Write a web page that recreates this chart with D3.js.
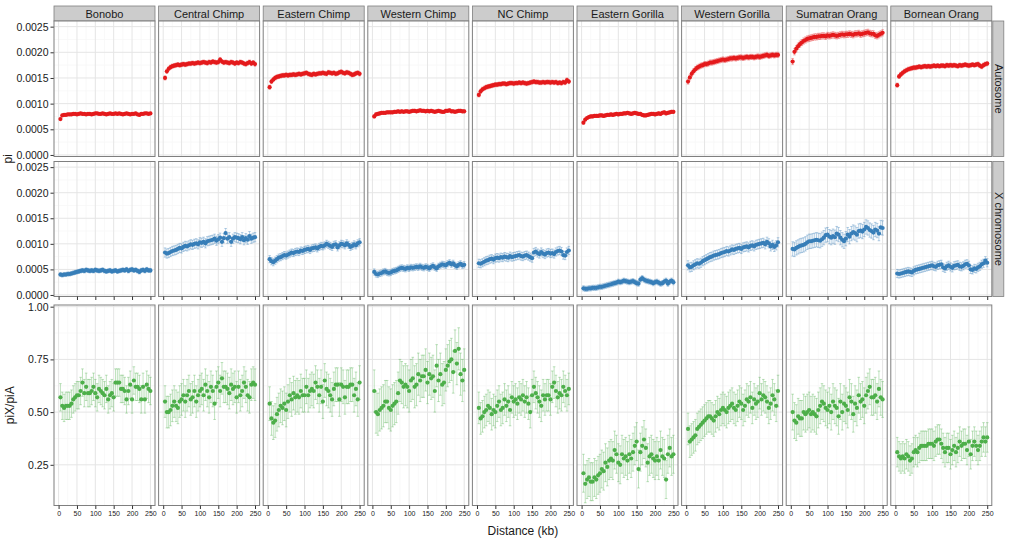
<!DOCTYPE html>
<html>
<head>
<meta charset="utf-8">
<script src="https://cdn.jsdelivr.net/npm/d3@7"></script>
<style>
  body { margin: 0; background: #fff; }
  text { font-family: "Liberation Sans", Arial, Helvetica, sans-serif; }
</style>
</head>
<body>
<svg width="1009" height="540"></svg>
<script>
// species (columns) and distance bins (kb)
var species = ["Bonobo", "Central Chimp", "Eastern Chimp", "Western Chimp", "NC Chimp",
               "Eastern Gorilla", "Western Gorilla", "Sumatran Orang", "Bornean Orang"];
var distance = [5,10,15,20,25,30,35,40,45,50,55,60,65,70,75,80,85,90,95,100,
                105,110,115,120,125,130,135,140,145,150,155,160,165,170,175,180,185,190,195,200,
                205,210,215,220,225,230,235,240,245,250];
var xTicks = [0, 50, 100, 150, 200, 250];
var piTicks = [0, 0.0005, 0.001, 0.0015, 0.002, 0.0025];
var ratioTicks = [0.25, 0.5, 0.75, 1.0];

// autosome pi
var piA_bonobo = [.00070,.00077,.00078,.00078,.00079,.00079,.00079,.00080,.00080,.00079,
  .00080,.00081,.00080,.00080,.00079,.00080,.00080,.00079,.00080,.00081,
  .00081,.00080,.00080,.00081,.00080,.00079,.00080,.00081,.00080,.00080,
  .00081,.00080,.00081,.00080,.00079,.00080,.00081,.00080,.00079,.00080,
  .00080,.00081,.00079,.00078,.00080,.00080,.00081,.00081,.00080,.00081];
var piA_central = [.00150,.00163,.00168,.00171,.00173,.00174,.00175,.00176,.00175,.00176,
  .00177,.00176,.00177,.00178,.00178,.00179,.00178,.00179,.00180,.00179,
  .00180,.00181,.00180,.00179,.00181,.00180,.00182,.00181,.00180,.00181,
  .00186,.00182,.00180,.00181,.00180,.00179,.00181,.00180,.00178,.00180,
  .00179,.00181,.00180,.00178,.00177,.00179,.00181,.00178,.00180,.00177];
var piA_eastern = [.00132,.00143,.00147,.00150,.00152,.00153,.00154,.00155,.00155,.00156,
  .00155,.00156,.00156,.00157,.00156,.00157,.00158,.00157,.00158,.00159,
  .00160,.00158,.00157,.00156,.00158,.00157,.00158,.00159,.00159,.00160,
  .00159,.00158,.00161,.00160,.00159,.00160,.00158,.00159,.00161,.00162,
  .00160,.00159,.00161,.00160,.00158,.00156,.00157,.00159,.00160,.00158];
var piA_western = [.00075,.00079,.00080,.00081,.00082,.00082,.00082,.00083,.00083,.00083,
  .00083,.00084,.00084,.00085,.00084,.00085,.00084,.00085,.00085,.00084,
  .00085,.00086,.00086,.00085,.00086,.00087,.00086,.00086,.00085,.00086,
  .00085,.00086,.00085,.00084,.00085,.00086,.00085,.00084,.00084,.00086,
  .00086,.00087,.00085,.00085,.00084,.00085,.00086,.00086,.00085,.00085];
var piA_nc = [.00117,.00124,.00128,.00130,.00132,.00133,.00134,.00135,.00136,.00137,
  .00137,.00138,.00138,.00139,.00139,.00138,.00139,.00140,.00140,.00139,
  .00140,.00140,.00141,.00140,.00141,.00140,.00139,.00140,.00141,.00142,
  .00143,.00142,.00142,.00141,.00141,.00142,.00141,.00142,.00142,.00141,
  .00142,.00141,.00142,.00140,.00141,.00140,.00142,.00141,.00146,.00143];
var piA_egor = [.00063,.00069,.00072,.00074,.00075,.00075,.00076,.00076,.00076,.00077,
  .00077,.00076,.00077,.00078,.00078,.00079,.00078,.00079,.00080,.00079,
  .00080,.00080,.00081,.00081,.00082,.00081,.00080,.00081,.00082,.00081,
  .00080,.00080,.00078,.00077,.00077,.00078,.00079,.00080,.00080,.00079,
  .00080,.00081,.00080,.00082,.00083,.00081,.00082,.00083,.00084,.00084];
var piA_wgor = [.00143,.00151,.00158,.00163,.00167,.00170,.00172,.00174,.00175,.00177,
  .00177,.00178,.00180,.00180,.00181,.00182,.00183,.00184,.00185,.00186,
  .00185,.00186,.00187,.00188,.00188,.00189,.00188,.00189,.00190,.00190,
  .00189,.00190,.00191,.00190,.00191,.00191,.00190,.00191,.00192,.00191,
  .00192,.00193,.00194,.00195,.00193,.00194,.00195,.00194,.00195,.00195];
var piA_sorang = [.00182,.00201,.00207,.00212,.00216,.00219,.00222,.00224,.00226,.00227,
  .00228,.00229,.00230,.00230,.00231,.00231,.00232,.00232,.00231,.00233,
  .00232,.00233,.00234,.00233,.00232,.00233,.00234,.00235,.00234,.00235,
  .00235,.00236,.00235,.00234,.00236,.00236,.00237,.00235,.00236,.00237,
  .00238,.00239,.00237,.00236,.00236,.00233,.00232,.00234,.00236,.00238];
var piA_borang = [.00136,.00153,.00157,.00160,.00163,.00165,.00167,.00168,.00169,.00170,
  .00170,.00171,.00172,.00171,.00172,.00173,.00172,.00173,.00172,.00173,
  .00174,.00173,.00174,.00173,.00174,.00174,.00173,.00175,.00174,.00175,
  .00174,.00175,.00174,.00173,.00175,.00174,.00175,.00176,.00175,.00174,
  .00175,.00176,.00175,.00176,.00177,.00174,.00172,.00175,.00177,.00178];

// X chromosome pi
var piX_bonobo = [.00040,.00039,.00040,.00040,.00041,.00041,.00042,.00043,.00044,.00045,
  .00046,.00047,.00048,.00047,.00049,.00048,.00047,.00048,.00047,.00049,
  .00048,.00047,.00048,.00049,.00047,.00046,.00047,.00048,.00046,.00047,
  .00048,.00046,.00047,.00048,.00049,.00048,.00050,.00047,.00049,.00050,
  .00048,.00049,.00047,.00045,.00048,.00049,.00047,.00050,.00048,.00048];
var piX_central = [.00083,.00081,.00082,.00084,.00086,.00087,.00088,.00090,.00092,.00091,
  .00094,.00096,.00095,.00097,.00099,.00098,.00100,.00101,.00099,.00103,
  .00102,.00104,.00101,.00105,.00106,.00107,.00108,.00110,.00106,.00109,
  .00112,.00104,.00111,.00121,.00110,.00113,.00104,.00110,.00113,.00112,
  .00111,.00109,.00113,.00107,.00111,.00108,.00115,.00110,.00112,.00113];
var piX_eastern = [.00070,.00066,.00064,.00067,.00070,.00073,.00074,.00076,.00078,.00077,
  .00079,.00081,.00083,.00082,.00084,.00085,.00084,.00087,.00086,.00088,
  .00089,.00090,.00088,.00091,.00092,.00093,.00091,.00094,.00096,.00095,
  .00097,.00100,.00098,.00096,.00094,.00098,.00099,.00093,.00097,.00100,
  .00099,.00097,.00101,.00098,.00094,.00096,.00099,.00097,.00101,.00103];
var piX_western = [.00045,.00041,.00040,.00042,.00043,.00045,.00046,.00044,.00043,.00044,
  .00046,.00047,.00048,.00050,.00052,.00053,.00052,.00051,.00053,.00052,
  .00054,.00053,.00054,.00055,.00054,.00056,.00054,.00053,.00055,.00054,
  .00052,.00055,.00057,.00054,.00052,.00056,.00058,.00060,.00059,.00058,
  .00061,.00063,.00060,.00062,.00058,.00056,.00059,.00061,.00058,.00059];
var piX_nc = [.00062,.00061,.00063,.00065,.00067,.00068,.00070,.00071,.00069,.00072,
  .00073,.00072,.00074,.00073,.00075,.00074,.00073,.00076,.00074,.00075,
  .00076,.00077,.00078,.00076,.00075,.00077,.00078,.00076,.00074,.00072,
  .00083,.00085,.00082,.00080,.00084,.00081,.00079,.00082,.00083,.00081,
  .00082,.00080,.00084,.00086,.00087,.00085,.00078,.00077,.00084,.00087];
var piX_egor = [.00013,.00012,.00012,.00013,.00013,.00014,.00014,.00014,.00015,.00016,
  .00016,.00017,.00018,.00019,.00020,.00021,.00022,.00023,.00024,.00026,
  .00025,.00026,.00028,.00027,.00026,.00025,.00026,.00027,.00025,.00023,
  .00022,.00030,.00033,.00030,.00028,.00027,.00026,.00025,.00023,.00025,
  .00026,.00024,.00022,.00023,.00026,.00028,.00022,.00026,.00028,.00025];
var piX_wgor = [.00058,.00054,.00055,.00058,.00060,.00062,.00061,.00063,.00066,.00068,
  .00070,.00072,.00074,.00075,.00077,.00078,.00079,.00080,.00082,.00083,
  .00084,.00086,.00085,.00087,.00089,.00088,.00090,.00091,.00092,.00090,
  .00093,.00094,.00095,.00093,.00096,.00097,.00095,.00098,.00099,.00100,
  .00101,.00102,.00099,.00104,.00101,.00095,.00098,.00094,.00097,.00103];
var piX_sorang = [.00090,.00089,.00092,.00094,.00096,.00097,.00098,.00100,.00103,.00105,
  .00105,.00106,.00107,.00108,.00107,.00106,.00109,.00112,.00117,.00118,
  .00114,.00112,.00115,.00113,.00120,.00118,.00112,.00108,.00105,.00110,
  .00118,.00114,.00120,.00123,.00121,.00118,.00125,.00126,.00124,.00128,
  .00133,.00131,.00127,.00125,.00122,.00128,.00126,.00120,.00132,.00131];
var piX_borang = [.00042,.00041,.00042,.00043,.00044,.00045,.00046,.00045,.00044,.00047,
  .00049,.00050,.00051,.00052,.00053,.00054,.00055,.00056,.00057,.00058,
  .00056,.00055,.00058,.00059,.00060,.00054,.00052,.00056,.00058,.00055,
  .00053,.00057,.00058,.00059,.00056,.00055,.00057,.00060,.00061,.00058,
  .00050,.00049,.00052,.00051,.00054,.00056,.00060,.00062,.00067,.00063];

// piX / piA
var ratio_bonobo = [.57,.53,.52,.53,.53,.53,.54,.56,.57,.58,
  .58,.60,.64,.59,.62,.59,.59,.60,.62,.59,
  .57,.61,.60,.59,.58,.61,.56,.58,.59,.57,
  .64,.64,.64,.61,.61,.60,.56,.60,.63,.56,
  .65,.62,.62,.61,.56,.62,.56,.63,.61,.60];
var ratio_central = [.55,.50,.50,.51,.53,.55,.53,.52,.55,.56,
  .58,.55,.58,.60,.56,.57,.60,.55,.58,.60,
  .61,.58,.63,.60,.57,.62,.60,.54,.62,.64,
  .60,.66,.62,.62,.61,.59,.63,.61,.62,.57,
  .62,.58,.60,.64,.62,.58,.57,.63,.64,.63];
var ratio_eastern = [.54,.47,.45,.46,.49,.51,.53,.52,.54,.51,
  .55,.58,.56,.59,.57,.58,.57,.60,.58,.58,
  .62,.58,.60,.61,.60,.64,.62,.58,.62,.55,
  .65,.61,.60,.58,.56,.61,.63,.63,.56,.63,
  .62,.57,.62,.62,.63,.63,.58,.61,.56,.64];
var ratio_western = [.60,.50,.49,.51,.52,.53,.55,.55,.52,.51,
  .53,.54,.55,.59,.65,.64,.62,.63,.62,.60,
  .65,.66,.62,.63,.68,.65,.67,.67,.70,.64,
  .68,.66,.67,.60,.72,.65,.68,.63,.64,.70,
  .72,.74,.75,.69,.79,.73,.80,.68,.65,.70];
var ratio_nc = [.52,.47,.48,.50,.51,.53,.52,.49,.51,.50,
  .53,.55,.51,.52,.56,.53,.55,.51,.57,.55,
  .56,.54,.57,.56,.58,.55,.57,.54,.50,.58,
  .62,.59,.57,.55,.53,.58,.56,.58,.58,.56,
  .62,.64,.60,.57,.59,.58,.62,.60,.58,.61];
var ratio_egor = [.21,.16,.18,.19,.17,.17,.19,.18,.20,.21,
  .23,.22,.26,.24,.27,.28,.27,.32,.30,.26,
  .25,.30,.28,.29,.27,.30,.28,.31,.34,.36,
  .23,.31,.34,.37,.33,.26,.29,.30,.28,.27,
  .29,.27,.32,.29,.28,.18,.30,.33,.29,.30];
var ratio_wgor = [.42,.36,.37,.38,.39,.42,.43,.44,.45,.46,
  .47,.48,.48,.47,.46,.48,.50,.49,.51,.52,
  .51,.50,.52,.53,.54,.52,.51,.53,.55,.54,
  .51,.53,.56,.55,.57,.52,.56,.54,.55,.59,
  .56,.58,.57,.55,.52,.54,.58,.56,.53,.60];
var ratio_sorang = [.50,.46,.45,.48,.47,.47,.50,.49,.50,.51,
  .49,.50,.49,.48,.51,.53,.55,.54,.52,.51,
  .53,.50,.55,.53,.52,.48,.55,.50,.54,.53,
  .51,.57,.55,.49,.54,.52,.58,.55,.56,.53,
  .58,.60,.62,.57,.57,.58,.55,.61,.57,.56];
var ratio_borang = [.31,.29,.28,.29,.28,.30,.29,.27,.28,.31,
  .32,.31,.33,.34,.34,.34,.34,.35,.35,.35,
  .34,.36,.37,.37,.35,.33,.31,.33,.33,.30,
  .32,.34,.31,.33,.36,.34,.35,.35,.32,.36,
  .30,.34,.36,.34,.32,.34,.36,.38,.36,.38];

// error bar half widths, one per species
var errA = [.00002, .00004, .00004, .00003, .00004, .00003, .00005, .00006, .00004];
var errX = [.00004, .00009, .00007, .00006, .00008, .00005, .00009, .00014, .00008];
var errR = [.065, .075, .08, .10, .075, .09, .075, .085, .07];

var piA = [piA_bonobo, piA_central, piA_eastern, piA_western, piA_nc, piA_egor, piA_wgor, piA_sorang, piA_borang];
var piX = [piX_bonobo, piX_central, piX_eastern, piX_western, piX_nc, piX_egor, piX_wgor, piX_sorang, piX_borang];
var ratio = [ratio_bonobo, ratio_central, ratio_eastern, ratio_western, ratio_nc, ratio_egor, ratio_wgor, ratio_sorang, ratio_borang];

var svg = d3.select("svg");

// layout
var left = 54, panelW = 101, gapX = 3.6;
var rows = [
  {top: 21, bottom: 156.5, data: piA, err: errA, color: "#e41a1c", strip: "Autosome"},
  {top: 161.5, bottom: 296.5, data: piX, err: errX, color: "#377eb8", strip: "X chromosome"},
  {top: 305, bottom: 505.5, data: ratio, err: errR, color: "#4daf4a"}
];

var x = d3.scaleLinear().domain([-12.5, 262.5]).range([0, panelW]);
var yPi1 = d3.scaleLinear().domain([-0.00003, 0.00261]).range([rows[0].bottom, rows[0].top]);
var yPi2 = d3.scaleLinear().domain([-0.00003, 0.00261]).range([rows[1].bottom, rows[1].top]);
var yR = d3.scaleLinear().domain([0.057, 1.008]).range([rows[2].bottom, rows[2].top]);
rows[0].y = yPi1; rows[0].ticks = piTicks; rows[0].fmt = d3.format(".4f");
rows[1].y = yPi2; rows[1].ticks = piTicks; rows[1].fmt = d3.format(".4f");
rows[2].y = yR; rows[2].ticks = ratioTicks; rows[2].fmt = d3.format(".2f");

// column strips
species.forEach(function(s, i) {
  var px = left + i * (panelW + gapX);
  svg.append("rect").attr("x", px).attr("y", 6).attr("width", panelW).attr("height", 15)
    .attr("fill", "#cccccc").attr("stroke", "#7f7f7f").attr("stroke-width", 0.8);
  svg.append("text").attr("x", px + panelW / 2).attr("y", 17.5)
    .attr("text-anchor", "middle").attr("font-size", 11).attr("fill", "#1a1a1a").text(s);
});

rows.forEach(function(row, r) {
  var y = row.y;
  var h = row.bottom - row.top;

  // y axis on the left
  var ya = svg.append("g").attr("transform", "translate(" + left + ",0)")
    .call(d3.axisLeft(y).tickValues(row.ticks).tickFormat(row.fmt).tickSize(3.5).tickPadding(2));
  ya.select(".domain").remove();
  ya.selectAll("line").attr("stroke", "#333");
  ya.selectAll("text").attr("font-size", 10.5).attr("fill", "#1a1a1a")
    .style("font-family", '"Liberation Sans", Arial, sans-serif');

  species.forEach(function(s, i) {
    var px = left + i * (panelW + gapX);
    var g = svg.append("g").attr("transform", "translate(" + px + ",0)");

    g.append("rect").attr("x", 0).attr("y", row.top).attr("width", panelW).attr("height", h)
      .attr("fill", "#fff");

    // grid lines
    var yMinor = d3.range(row.ticks.length - 1).map(function(k) { return (row.ticks[k] + row.ticks[k + 1]) / 2; });
    g.selectAll(".ymin").data(yMinor).enter().append("line")
      .attr("x1", 0).attr("x2", panelW).attr("y1", y).attr("y2", y)
      .attr("stroke", "#f7f7f7").attr("stroke-width", 0.8);
    g.selectAll(".xmin").data([25, 75, 125, 175, 225]).enter().append("line")
      .attr("x1", x).attr("x2", x).attr("y1", row.top).attr("y2", row.bottom)
      .attr("stroke", "#f7f7f7").attr("stroke-width", 0.8);
    g.selectAll(".ymaj").data(row.ticks).enter().append("line")
      .attr("x1", 0).attr("x2", panelW).attr("y1", y).attr("y2", y)
      .attr("stroke", "#e5e5e5").attr("stroke-width", 1);
    g.selectAll(".xmaj").data(xTicks).enter().append("line")
      .attr("x1", x).attr("x2", x).attr("y1", row.top).attr("y2", row.bottom)
      .attr("stroke", "#e5e5e5").attr("stroke-width", 1);

    var vals = row.data[i];
    var e = row.err[i];
    var pts = vals.map(function(v, k) { return {d: distance[k], v: v}; });

    // error bars
    var eb = g.append("g").attr("stroke", row.color).attr("stroke-opacity", 0.4).attr("stroke-width", 0.9);
    eb.selectAll(".v").data(pts).enter().append("line")
      .attr("x1", function(p) { return x(p.d); }).attr("x2", function(p) { return x(p.d); })
      .attr("y1", function(p) { return y(p.v - e); }).attr("y2", function(p) { return y(p.v + e); });
    eb.selectAll(".t").data(pts).enter().append("line")
      .attr("x1", function(p) { return x(p.d) - 1.3; }).attr("x2", function(p) { return x(p.d) + 1.3; })
      .attr("y1", function(p) { return y(p.v + e); }).attr("y2", function(p) { return y(p.v + e); });
    eb.selectAll(".b").data(pts).enter().append("line")
      .attr("x1", function(p) { return x(p.d) - 1.3; }).attr("x2", function(p) { return x(p.d) + 1.3; })
      .attr("y1", function(p) { return y(p.v - e); }).attr("y2", function(p) { return y(p.v - e); });

    // points
    g.selectAll("circle").data(pts).enter().append("circle")
      .attr("cx", function(p) { return x(p.d); })
      .attr("cy", function(p) { return y(p.v); })
      .attr("r", 2.1)
      .attr("fill", row.color);

    // panel border
    g.append("rect").attr("x", 0).attr("y", row.top).attr("width", panelW).attr("height", h)
      .attr("fill", "none").attr("stroke", "#7f7f7f").attr("stroke-width", 1);

    // x ticks below the X chromosome row and the ratio row
    if (r > 0) {
      var xa = g.append("g").attr("transform", "translate(0," + row.bottom + ")")
        .call(d3.axisBottom(x).tickValues(xTicks).tickSize(3.5).tickPadding(2));
      xa.select(".domain").remove();
      xa.selectAll("line").attr("stroke", "#333");
      if (r === 2) {
        xa.selectAll("text").attr("font-size", 7).attr("fill", "#1a1a1a")
          .style("font-family", '"Liberation Sans", Arial, sans-serif');
      } else {
        xa.selectAll("text").remove();
      }
    }
  });

  // row strips on the right
  if (row.strip) {
    var sx = left + 9 * panelW + 8 * gapX + 1;
    svg.append("rect").attr("x", sx).attr("y", row.top).attr("width", 11).attr("height", h)
      .attr("fill", "#cccccc").attr("stroke", "#7f7f7f").attr("stroke-width", 0.8);
    svg.append("text")
      .attr("transform", "translate(" + (sx + 2.5) + "," + (row.top + h / 2) + ") rotate(90)")
      .attr("text-anchor", "middle").attr("font-size", 11).attr("fill", "#1a1a1a").text(row.strip);
  }
});

// axis titles
svg.append("text").attr("transform", "translate(12," + ((rows[0].top + rows[1].bottom) / 2) + ") rotate(-90)")
  .attr("text-anchor", "middle").attr("font-size", 12).attr("fill", "#1a1a1a").text("pi");
svg.append("text").attr("transform", "translate(14," + ((rows[2].top + rows[2].bottom) / 2) + ") rotate(-90)")
  .attr("text-anchor", "middle").attr("font-size", 12).attr("fill", "#1a1a1a").text("piX/piA");
svg.append("text").attr("x", left + (9 * panelW + 8 * gapX) / 2).attr("y", 535)
  .attr("text-anchor", "middle").attr("font-size", 12).attr("fill", "#1a1a1a").text("Distance (kb)");
</script>
</body>
</html>
